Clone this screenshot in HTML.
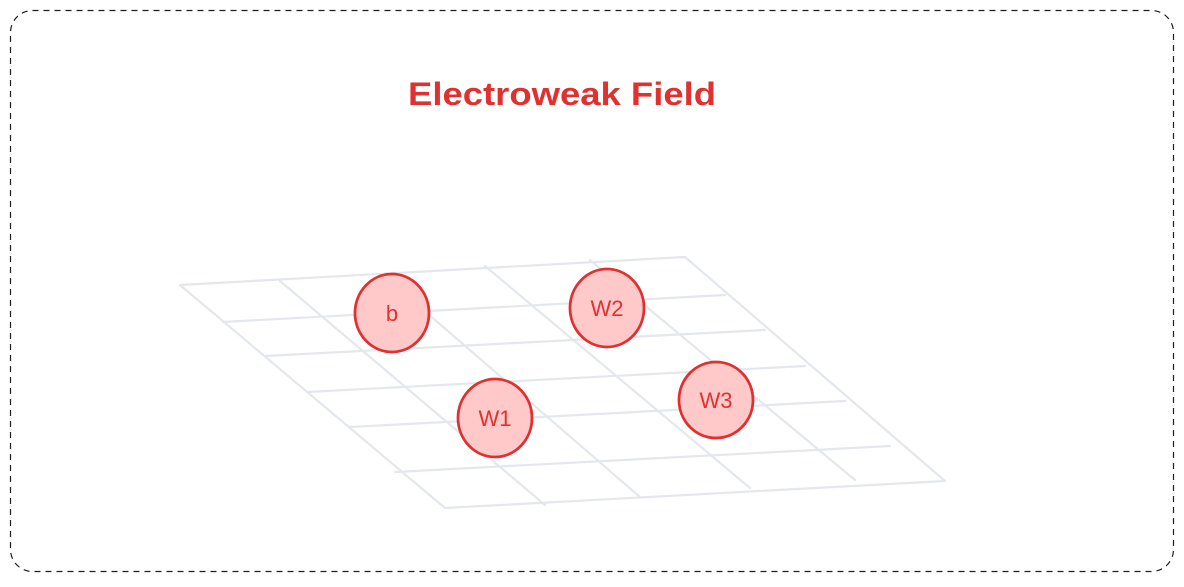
<!DOCTYPE html>
<html><head><style>
html,body{margin:0;padding:0;background:#fff;}
</style></head><body>
<svg width="1184" height="582" viewBox="0 0 1184 582" xmlns="http://www.w3.org/2000/svg">
<rect x="10.5" y="10.5" width="1163" height="561" rx="22" fill="none" stroke="#1e1e1e" stroke-width="1.2" stroke-dasharray="6,5"/>
<text x="408" y="105" textLength="308" lengthAdjust="spacingAndGlyphs" font-family="Liberation Sans, sans-serif" font-weight="bold" font-size="32" fill="#e03131">Electroweak Field</text>
<g stroke="#e4e7eb" stroke-width="2.2" fill="none" stroke-linecap="round">
<line x1="180" y1="285" x2="685" y2="257"/>
<line x1="223" y1="322" x2="725" y2="295"/>
<line x1="265" y1="356" x2="765" y2="330"/>
<line x1="307" y1="392" x2="805" y2="366"/>
<line x1="350" y1="427" x2="845" y2="401"/>
<line x1="395" y1="472" x2="890" y2="446"/>
<line x1="445" y1="508" x2="945" y2="481"/>
<line x1="180" y1="285" x2="445" y2="508"/>
<line x1="280" y1="281" x2="545" y2="505"/>
<line x1="383" y1="275" x2="640" y2="497"/>
<line x1="485" y1="266" x2="750" y2="488"/>
<line x1="590" y1="260" x2="855" y2="480"/>
<line x1="685" y1="257" x2="945" y2="481"/>
</g>
<g fill="#ffc9c9" stroke="#e03131" stroke-width="2.8">
<ellipse cx="392" cy="313" rx="37" ry="39"/>
<ellipse cx="607" cy="308" rx="37" ry="39"/>
<ellipse cx="495" cy="418" rx="37" ry="39"/>
<ellipse cx="716" cy="400" rx="37" ry="38"/>
</g>
<g font-family="Liberation Sans, sans-serif" font-size="22" fill="#e03131" text-anchor="middle">
<text x="392" y="321">b</text>
<text x="607" y="316">W2</text>
<text x="495" y="426">W1</text>
<text x="716" y="408">W3</text>
</g>
</svg>
</body></html>
